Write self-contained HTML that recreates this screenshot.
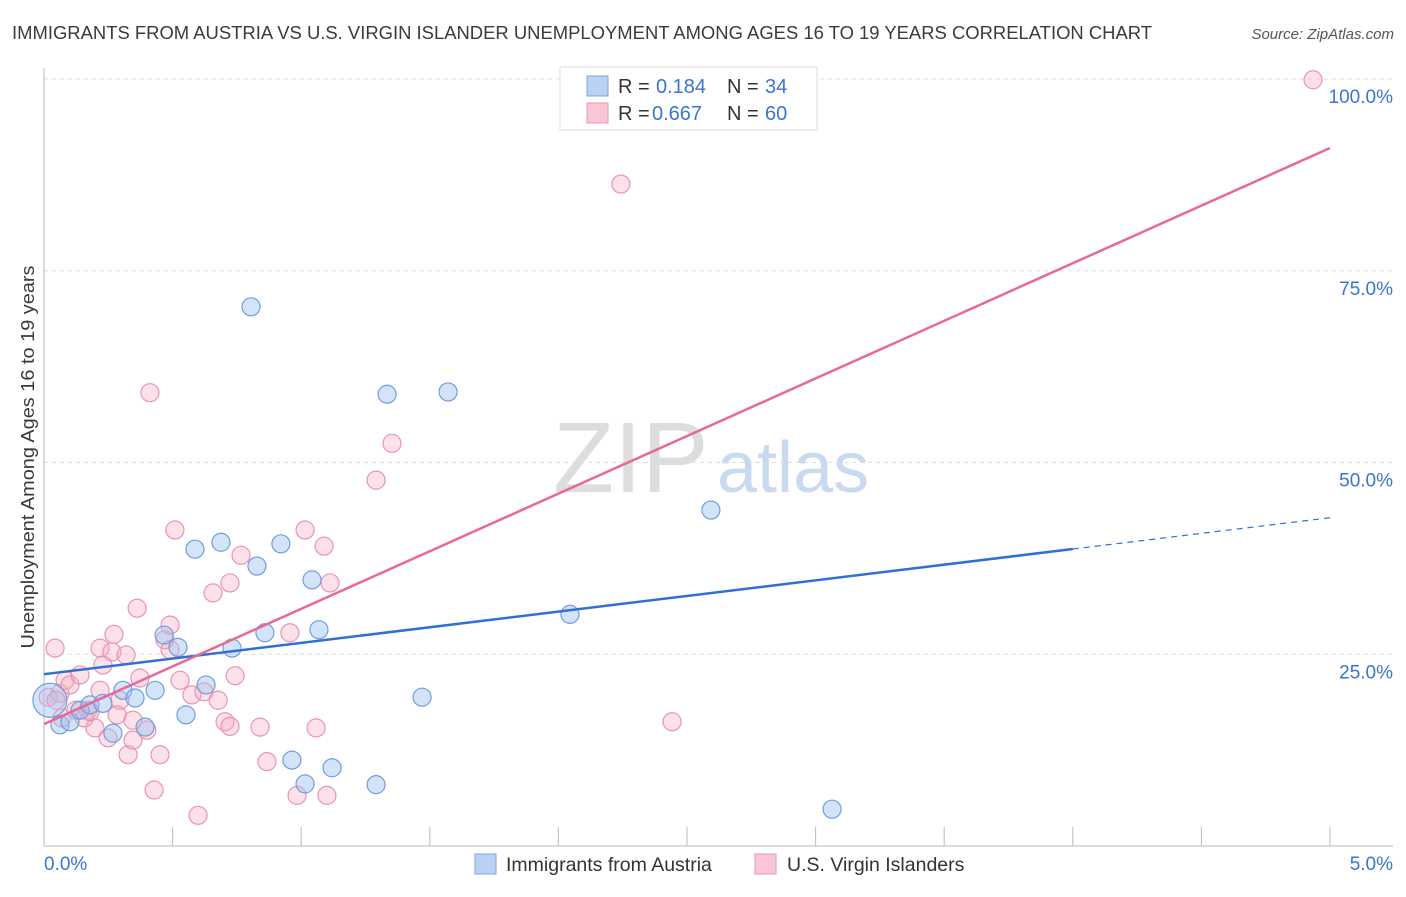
<!DOCTYPE html>
<html><head><meta charset="utf-8"><style>
body{margin:0;background:#fff;font-family:"Liberation Sans",sans-serif}
svg text{font-family:"Liberation Sans",sans-serif}
</style></head><body>
<svg id="chart" width="1406" height="892" xmlns="http://www.w3.org/2000/svg">
<text x="12" y="39" font-size="18" fill="#3a3a3a" textLength="1140" lengthAdjust="spacingAndGlyphs">IMMIGRANTS FROM AUSTRIA VS U.S. VIRGIN ISLANDER UNEMPLOYMENT AMONG AGES 16 TO 19 YEARS CORRELATION CHART</text>
<text x="1394" y="39" font-size="15" fill="#555" font-style="italic" text-anchor="end">Source: ZipAtlas.com</text>
<text transform="translate(34,457) rotate(-90)" font-size="18.5" fill="#3a3a3a" text-anchor="middle" textLength="383" lengthAdjust="spacingAndGlyphs">Unemployment Among Ages 16 to 19 years</text>
<g><text x="553" y="492" font-size="100" font-family="Liberation Serif,serif" fill="#ddd">ZIP</text><text x="717" y="492" font-size="72" fill="#c9daf0">atlas</text></g>
<g id="grid"></g><g id="axes"></g><g id="marks"></g><g id="lines"></g>
<g>
<rect x="560" y="67" width="257" height="63" fill="#fff" stroke="#ddd"/>
<rect x="587" y="76" width="21" height="20" fill="#b9d1f3" stroke="#7aa5e3"/>
<rect x="587" y="103" width="21" height="20" fill="#f9c6d5" stroke="#ec97b2"/>
<text x="618" y="93" font-size="20" fill="#333">R = </text><text x="656" y="93" font-size="20" fill="#3a74d4">0.184</text>
<text x="727" y="93" font-size="20" fill="#333">N = </text><text x="765" y="93" font-size="20" fill="#3a74d4">34</text>
<text x="618" y="120" font-size="20" fill="#333">R = </text><text x="652" y="120" font-size="20" fill="#3a74d4">0.667</text>
<text x="727" y="120" font-size="20" fill="#333">N = </text><text x="765" y="120" font-size="20" fill="#3a74d4">60</text>
</g>
<g>
<rect x="475" y="854" width="21" height="20" fill="#b9d1f3" stroke="#7aa5e3"/>
<text x="506" y="871" font-size="19.5" fill="#333">Immigrants from Austria</text>
<rect x="755" y="854" width="21" height="20" fill="#f9c6d5" stroke="#ec97b2"/>
<text x="787" y="871" font-size="19.5" fill="#333">U.S. Virgin Islanders</text>
</g>
</svg>
<script>
const xTickLabels=["0.0%","5.0%"];
const yTicks=[25,50,75,100];
const yTickLabels=["25.0%","50.0%","75.0%","100.0%"];
const blueX=[0.062,0.101,0.140,0.179,0.229,0.268,0.307,0.354,0.393,0.432,0.467,0.521,0.552,0.587,0.630,0.688,0.731,0.805,0.828,0.859,0.921,0.964,1.015,1.042,1.069,1.120,1.291,1.334,1.470,1.571,2.045,2.593,3.064,0.023];
const blueY=[15.8,16.2,17.7,18.4,18.6,14.7,20.3,19.3,15.5,20.3,27.5,25.9,17.1,38.7,21.0,39.6,25.8,70.3,36.5,27.8,39.4,11.2,8.1,34.7,28.2,10.2,8.0,58.9,19.4,59.2,30.2,43.8,4.8,19.0];
const pinkX=[0.016,0.043,0.062,0.082,0.101,0.140,0.171,0.198,0.218,0.229,0.249,0.264,0.272,0.284,0.295,0.319,0.327,0.346,0.362,0.373,0.400,0.412,0.428,0.451,0.470,0.490,0.509,0.529,0.575,0.599,0.622,0.657,0.677,0.704,0.723,0.743,0.766,0.840,0.867,0.956,0.984,1.015,1.058,1.089,1.100,1.112,1.291,1.353,2.243,2.442,4.934,0.156,0.179,0.070,0.124,0.218,0.723,0.490,0.346,0.047];
const pinkY=[19.4,25.8,19.9,21.6,21.0,22.3,17.7,15.4,25.8,23.6,14.1,25.3,27.6,17.1,19.0,24.9,11.9,13.8,31.0,21.9,15.1,59.1,7.3,11.9,26.9,28.8,41.2,21.6,19.7,4.0,20.1,33.0,19.0,16.2,34.3,22.2,37.9,15.5,11.0,27.8,6.6,41.2,15.4,39.1,6.6,34.3,47.7,52.5,86.3,16.2,99.9,16.7,17.5,16.7,17.7,20.3,15.6,25.6,16.4,19.0];
const blueFit=[22.4,42.8];
const pinkFit=[15.9,91.0];
const NS="http://www.w3.org/2000/svg";
const X=v=>44+v/5*1286, Y=v=>846-v*7.67;
function mk(t,a,p){const e=document.createElementNS(NS,t);for(const k in a)e.setAttribute(k,a[k]);document.getElementById(p).appendChild(e);return e;}
yTicks.forEach((t,i)=>{
 const g=mk('line',{x1:44,x2:1393,y1:Y(t),y2:Y(t),stroke:'#ddd','stroke-dasharray':'4,4'},'grid');
 
 
 const l=mk('text',{x:1393,y:Y(t)+24,'font-size':19,fill:'#3a74d4','text-anchor':'end'},'axes');l.textContent=yTickLabels[i];
 
 
});
mk('line',{x1:44,x2:44,y1:68,y2:846,stroke:'#bbb'},'axes');
mk('line',{x1:44,x2:1393,y1:846,y2:846,stroke:'#bbb'},'axes');
for(let i=1;i<=10;i++){const t=mk('line',{x1:X(i*0.5),x2:X(i*0.5),y1:827,y2:846,stroke:'#bbb'},'axes');
 
 }
let a=mk('text',{x:44,y:870,'font-size':19,fill:'#3a74d4'},'axes');a.textContent=xTickLabels[0];


a=mk('text',{x:1393,y:870,'font-size':19,fill:'#3a74d4','text-anchor':'end'},'axes');a.textContent=xTickLabels[1];


pinkX.forEach((x,i)=>{const c=mk('circle',{cx:X(x),cy:Y(pinkY[i]),r:9,fill:'rgba(245,170,195,0.35)',stroke:'#e994b0','stroke-width':1.2},'marks');
 
 });
blueX.forEach((x,i)=>{const c=mk('circle',{cx:X(x),cy:Y(blueY[i]),r:i==33?17:9,fill:'rgba(160,195,240,0.45)',stroke:'#6f9de0','stroke-width':1.2},'marks');
 
 });
const bAt=x=>blueFit[0]+(blueFit[1]-blueFit[0])*x/5;
let ln=mk('line',{x1:X(0),y1:Y(bAt(0)),x2:X(4),y2:Y(bAt(4)),stroke:'#2f6fd6','stroke-width':2.5},'lines');


ln=mk('line',{x1:X(4),y1:Y(bAt(4)),x2:X(5),y2:Y(bAt(5)),stroke:'#2f6fd6','stroke-width':1.2,'stroke-dasharray':'6,5'},'lines');


ln=mk('line',{x1:X(0),y1:Y(pinkFit[0]),x2:X(5),y2:Y(pinkFit[1]),stroke:'#e8689a','stroke-width':2.5},'lines');


</script>
</body></html>
